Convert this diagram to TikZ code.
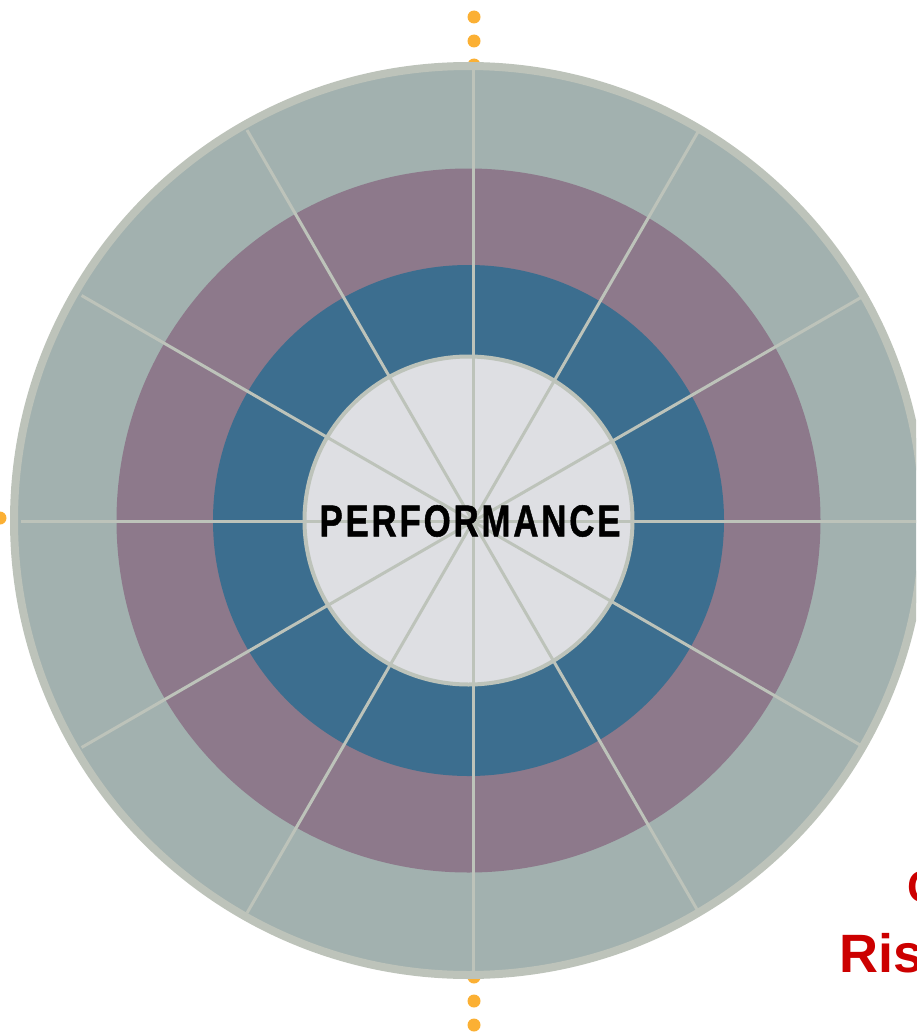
\documentclass[tikz,border=0pt]{standalone}
\usepackage{fontspec}
\setmainfont{Liberation Sans}

\definecolor{ringgrey}{HTML}{A2B1AF}
\definecolor{ringmauve}{HTML}{8D798B}
\definecolor{ringblue}{HTML}{3C6E8F}
\definecolor{corefill}{HTML}{DEDFE3}
\definecolor{edgegrey}{HTML}{BDC3BA}
\definecolor{dotorange}{HTML}{FBB034}
\definecolor{riskred}{HTML}{CC0000}

\begin{document}
\begin{tikzpicture}[
  x=1pt,
  y=-1pt,
  spoke/.style={
    draw=edgegrey,
    line width=3pt
  },
  dot/.style={
    fill=dotorange,
    draw=none
  },
  title/.style={
    font=\bfseries\fontsize{44.7}{50}\selectfont\addfontfeature{LetterSpace=8,FakeBold=1.2},
    inner sep=0pt
  },
  note/.style={
    text=riskred,
    inner sep=0pt,
    anchor=base west
  }
  ]
  \useasboundingbox (0,0) rectangle (916,1033);
  \clip (0,0) rectangle (916,1033);
  \coordinate (C) at (468.5,520.5);
  \coordinate (hub) at (473,521.5);

  % dotted guides behind the wheel
  \foreach \y in {17,41,65,977,1001,1025}
    \fill [dot] (474,\y) circle (6.5);
  \foreach \x in {0,24}
    \fill [dot] (\x,518) circle (6.5);

  % rings
  \fill [ringgrey] (C) circle (455);
  \fill [ringmauve] (C) circle (352);
  \fill [ringblue] (C) circle (255.5);
  \fill [corefill] (C) circle (164);

  \foreach \a in {0,30,...,330}
    \draw [spoke] (hub) -- ++(\a:452);

  \draw [draw=edgegrey, line width=4pt] (C) circle (164);
  \draw [draw=edgegrey, line width=8pt] (C) circle (454.5);

  \node [title] (perf) at (470,521) {\scalebox{0.78}[1]{PERFORMANCE}};
  \node [note, font=\bfseries\fontsize{45}{50}\selectfont] (opC) at (907,902) {C};
  \node [note, font=\bfseries\fontsize{54}{60}\selectfont] (risk) at (839,972) {Ris};
\end{tikzpicture}
\end{document}
